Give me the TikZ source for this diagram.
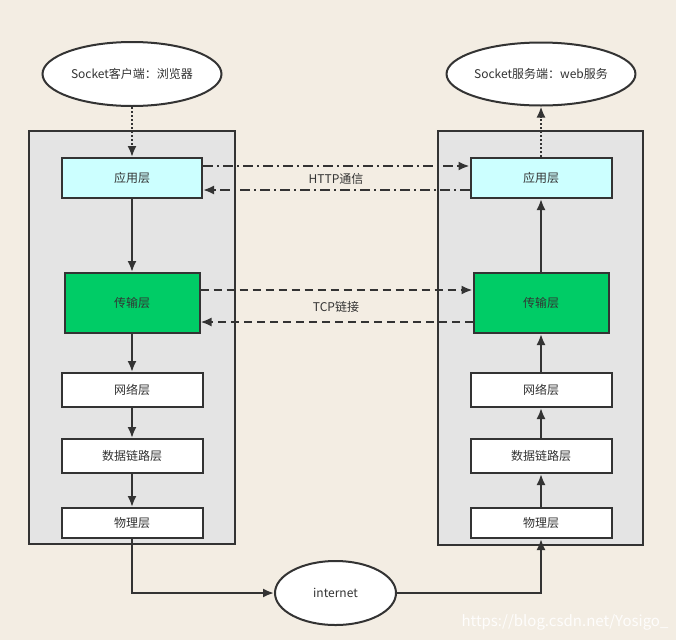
\documentclass[tikz,border=0pt]{standalone}
\usepackage{fontspec}
\newfontfamily\cjk{Noto Sans CJK SC}
\usetikzlibrary{arrows.meta,shapes.geometric}

\definecolor{paper}{RGB}{243,237,227}
\definecolor{panelgray}{RGB}{228,228,228}
\definecolor{appcyan}{RGB}{204,255,255}
\definecolor{tcpgreen}{RGB}{0,204,102}
\definecolor{ink}{RGB}{51,51,51}

\tikzset{
    layer/.style={draw=ink, line width=2pt, inner sep=0pt, minimum width=141pt,
        minimum height=34pt, font=\cjk\fontsize{12}{14}\selectfont, text=ink},
    socket/.style={draw=ink, line width=2pt, ellipse, fill=white, inner sep=0pt,
        font=\cjk\fontsize{12}{14}\selectfont, text=ink},
    panel/.style={draw=ink, line width=1.5pt, fill=panelgray},
    link/.style={draw=ink, line width=2pt},
    http/.style={link, dash pattern=on 10pt off 4pt on 2pt off 4pt},
    tcp/.style={link, dash pattern=on 8pt off 5pt},
    hint/.style={font=\cjk\fontsize{12}{14}\selectfont, text=ink}
}

\begin{document}
\begin{tikzpicture}[x=1pt, y=-1pt, >={Latex[length=11pt,width=9pt]}]

    % Paper background, fixes the size of the page
    \fill[paper] (0,0) rectangle (676,640);
    \useasboundingbox (0,0) rectangle (676,640);

    % The two protocol stacks
    \draw[panel] (29,131) rectangle (235,544);
    \draw[panel] (438,131) rectangle (643,545);

    % Client side layers
    \node[layer, fill=appcyan, minimum height=40pt, minimum width=140pt] (cApp) at (132,178) {应用层};
    \node[layer, fill=tcpgreen, minimum height=60pt, minimum width=135pt] (cTrans) at (132,303) {传输层};
    \node[layer, fill=white] (cNet) at (132,390) {网络层};
    \node[layer, fill=white] (cLink) at (132,456) {数据链路层};
    \node[layer, fill=white, minimum height=30pt] (cPhy) at (132,523) {物理层};

    % Server side layers
    \node[layer, fill=appcyan, minimum height=40pt] (sApp) at (541,178) {应用层};
    \node[layer, fill=tcpgreen, minimum height=60pt, minimum width=135pt] (sTrans) at (541,303) {传输层};
    \node[layer, fill=white] (sNet) at (541,390) {网络层};
    \node[layer, fill=white] (sLink) at (541,456) {数据链路层};
    \node[layer, fill=white, minimum height=30pt] (sPhy) at (541,523) {物理层};

    % The two sockets and the net between them
    \node[socket, minimum width=179pt, minimum height=64pt] (client) at (132,74) {Socket客户端：浏览器};
    \node[socket, minimum width=180pt, minimum height=63pt] (server) at (541,74) {Socket服务端：web服务};
    \node[socket, minimum width=121pt, minimum height=64pt] (internet) at (335.5,593) {internet};

    % Data goes down on the client side ...
    \foreach \a/\b in {cApp/cTrans, cTrans/cNet, cNet/cLink, cLink/cPhy} {
        \draw[link,->] (\a) -- (\b);
    }

    % ... and up on the server side
    \foreach \a/\b in {sPhy/sLink, sLink/sNet, sNet/sTrans, sTrans/sApp} {
        \draw[link,->] (\a) -- (\b);
    }

    % Sockets talk to the application layers
    \draw[link, dash pattern=on 2pt off 2pt, ->] (client) -- (cApp);
    \draw[link, dash pattern=on 2pt off 2pt, ->] (sApp) -- (server);

    % Physical layers through the internet
    \draw[link,->] (cPhy.south) |- (internet.west);
    \draw[link,->] (internet.east) -| (sPhy.south);

    % HTTP between the application layers
    \draw[http,->] ([yshift=12pt]cApp.east) -- ([yshift=12pt]sApp.west);
    \draw[http,->] ([yshift=-12pt]sApp.west) -- ([yshift=-12pt]cApp.east);
    \node[hint] (httpLabel) at (336,179) {HTTP通信};

    % TCP between the transport layers
    \draw[tcp,->] ([yshift=13pt]cTrans.east) -- ([yshift=13pt]sTrans.west);
    \draw[tcp,->] ([yshift=-19pt]sTrans.west) -- ([yshift=-19pt]cTrans.east);
    \node[hint] (tcpLabel) at (336,307) {TCP链接};

    % Watermark
    \node[font=\cjk\fontsize{15}{17}\selectfont, text=white!90!paper] (mark) at (565,622) {https://blog.csdn.net/Yosigo\_};

\end{tikzpicture}
\end{document}
